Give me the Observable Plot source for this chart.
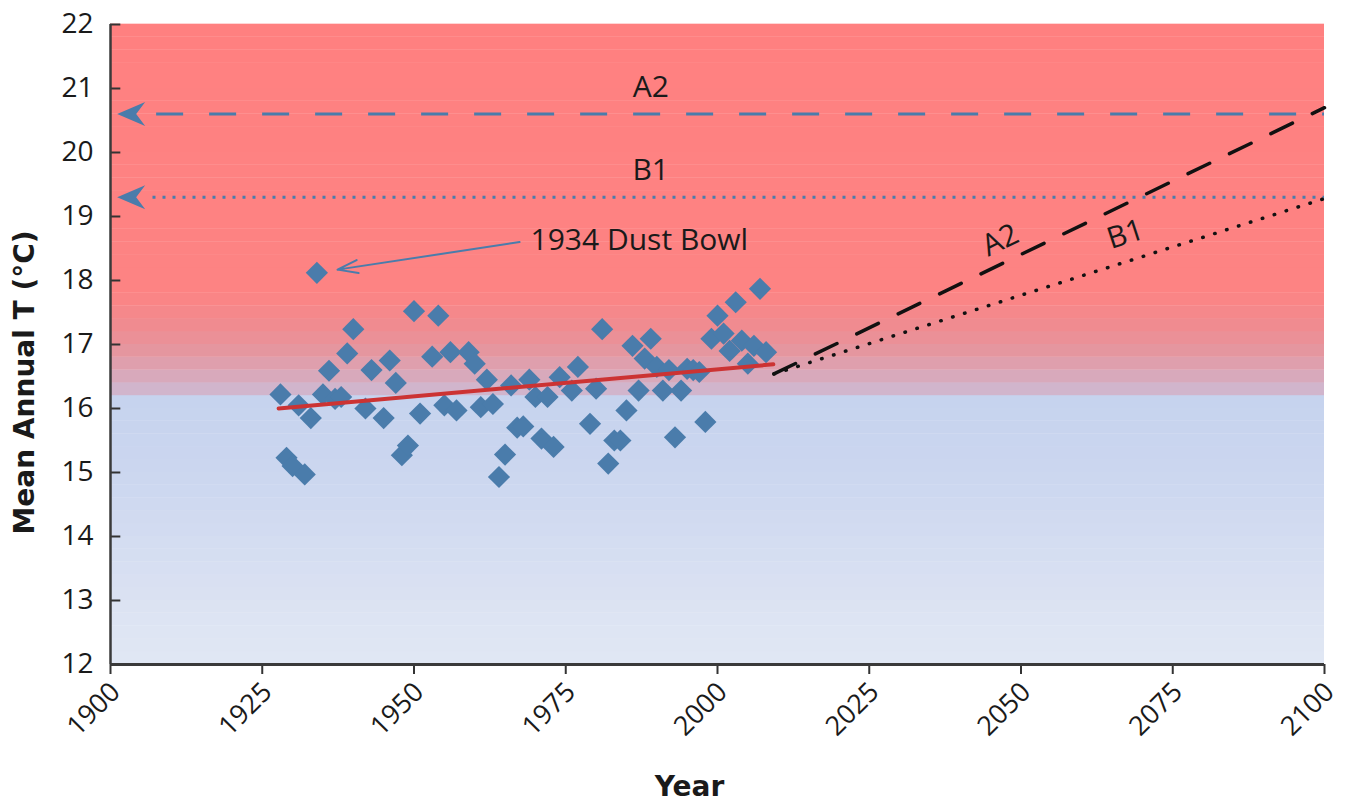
<!DOCTYPE html>
<html><head><meta charset="utf-8">
<script src="https://cdn.jsdelivr.net/npm/d3@7"></script>
<script src="https://cdn.jsdelivr.net/npm/@observablehq/plot@0.6"></script>
<style>body{margin:0;background:#fff;} svg{display:block}</style>
</head><body><div id="chart"></div>
<script>
// Observed annual mean temperature (°C)
const years = [1928,1929,1930,1931,1932,1933,1934,1935,1936,1937,1938,1939,1940,1942,1943,1945,1946,1947,1948,1949,1950,1951,1953,1954,1955,1956,1957,1959,1960,1961,1962,1963,1964,1965,1966,1967,1968,1969,1970,1971,1972,1973,1974,1976,1977,1979,1980,1981,1982,1983,1984,1985,1986,1987,1988,1989,1990,1991,1992,1993,1994,1995,1996,1997,1998,1999,2000,2001,2002,2003,2004,2005,2006,2007,2008];
const temps = [16.22,15.23,15.10,16.05,14.97,15.85,18.12,16.22,16.59,16.15,16.18,16.86,17.24,16.00,16.60,15.85,16.75,16.40,15.27,15.42,17.52,15.92,16.81,17.45,16.05,16.88,15.97,16.88,16.70,16.02,16.45,16.07,14.93,15.28,16.36,15.70,15.72,16.45,16.18,15.53,16.18,15.40,16.49,16.28,16.65,15.76,16.31,17.24,15.14,15.50,15.50,15.97,16.98,16.28,16.78,17.09,16.65,16.28,16.60,15.55,16.28,16.62,16.60,16.57,15.79,17.09,17.45,17.17,16.90,17.66,17.06,16.70,16.98,17.87,16.88];

// Linear trend of observations
const trendYears = [1927.7, 2009.2];
const trendTemps = [16.0, 16.69];

// Scenario projections
const scenarios = ["A2", "B1"];
const projStartYear = 2009.3;
const projStartTemp = 16.54;
const projEndYear = 2100;
const projEndTemps = [20.7, 19.28];
const scenarioLevels = [20.6, 19.3];

// Annotation
const dustBowlYear = 1934;
const dustBowlTemp = 18.12;
const dustBowlLabel = "1934 Dust Bowl";

// Axes
const xTicks = [1900,1925,1950,1975,2000,2025,2050,2075,2100];
const yTicks = [12,13,14,15,16,17,18,19,20,21,22];

// ---------- build ----------
const obs = years.map((y, i) => ({year: y, temp: temps[i]}));
const trend = trendYears.map((y, i) => ({year: y, temp: trendTemps[i]}));
const proj = scenarios.map((s, i) => [
  {s, year: projStartYear, temp: projStartTemp},
  {s, year: projEndYear, temp: projEndTemps[i]}
]);
const levels = scenarios.map((s, i) => ({s, temp: scenarioLevels[i]}));

// background banded gradient (style)
const stopT = [12, 13, 14, 15, 16.2, 16.21, 16.5, 16.9, 17.3, 17.8, 22];
const stopC = ["#e1e7f4","#dbe2f2","#d3dcf1","#cbd6ef","#c6d3ee","#cebad3","#d8a9bb","#e5969f","#f08b90","#fd8383","#ff8080"];
const colorAt = d3.scaleLinear().domain(stopT).range(stopC).interpolate(d3.interpolateRgb);
const bands = d3.range(12, 22, 0.2).map(lo => ({lo, hi: lo + 0.2, c: colorAt(lo + 0.1)}));

const BLUE = "#4a7cab";
const arrowSym = {draw(ctx) {
  ctx.moveTo(0, 0); ctx.lineTo(28, -12); ctx.lineTo(19, 0); ctx.lineTo(28, 12); ctx.closePath();
}};

const chart = Plot.plot({
  width: 1348, height: 802,
  marginLeft: 110, marginRight: 24, marginTop: 24, marginBottom: 138,
  style: {fontFamily: "Open Sans", background: "#fff"},
  x: {domain: [1900, 2100]},
  y: {domain: [12, 22]},
  marks: [
    Plot.rect(bands, {x1: 1900, x2: 2100, y1: "lo", y2: d => d.hi + 0.005, fill: "c"}),
    // scenario levels (blue horizontals)
    Plot.ruleY([levels[0]], {y: "temp", x1: 1907.6, x2: 2100, stroke: BLUE, strokeWidth: 3, strokeDasharray: "27,26"}),
    Plot.ruleY([levels[1]], {y: "temp", x1: 1907.0, x2: 2100, stroke: BLUE, strokeWidth: 3, strokeDasharray: "3,7"}),
    Plot.dot(levels, {x: 1901.1, y: "temp", symbol: arrowSym, fill: BLUE, stroke: "none"}),
    Plot.text(levels, {x: 1989, y: d => d.temp + 0.42, text: "s", fontSize: 30, fill: "#1a1a1a"}),
    // projections
    Plot.line(proj[0], {x: "year", y: "temp", stroke: "#111", strokeWidth: 3.5, strokeDasharray: "24,22"}),
    Plot.line(proj[1], {x: "year", y: "temp", stroke: "#111", strokeWidth: 3.5, strokeDasharray: "0.5,12", strokeLinecap: "round"}),
    Plot.text([scenarios[0]], {x: 2046.6, y: 18.63, text: d => d, rotate: -26, fontSize: 30, fill: "#1a1a1a"}),
    Plot.text([scenarios[1]], {x: 2067.2, y: 18.72, text: d => d, rotate: -18, fontSize: 30, fill: "#1a1a1a"}),
    // observations
    Plot.dot(obs, {x: "year", y: "temp", symbol: "diamond2", r: 10, fill: BLUE, stroke: "none"}),
    Plot.line(trend, {x: "year", y: "temp", stroke: "#cc3333", strokeWidth: 4}),
    // dust bowl annotation
    Plot.arrow([{x1: 1967.4, y1: 18.6, x2: dustBowlYear + 3.4, y2: dustBowlTemp + 0.05}],
      {x1: "x1", y1: "y1", x2: "x2", y2: "y2", stroke: BLUE, strokeWidth: 2, headLength: 16, headAngle: 36}),
    Plot.text([dustBowlLabel], {x: 1969.2, y: 18.63, text: d => d, textAnchor: "start", fontSize: 30, fill: "#1a1a1a"}),
    // axes
    Plot.ruleY(yTicks, {y: d => d, x1: 1900, x2: 1901.7, stroke: "#333", strokeWidth: 2}),
    Plot.axisY({ticks: yTicks, tickSize: 0, tickPadding: 17, fontSize: 28, label: null, fill: "#1a1a1a"}),
    Plot.axisX({ticks: xTicks, tickSize: 10, tickFormat: () => "", label: null, stroke: "#333", strokeWidth: 2}),
    Plot.axisX({ticks: xTicks, tickSize: 0, tickPadding: 23, tickRotate: -45, tickFormat: d => String(d), fontSize: 27, label: null, dx: 5, fill: "#1a1a1a", stroke: "none"}),
    Plot.ruleX([1900], {stroke: "#3a3a3a", strokeWidth: 2.5}),
    Plot.ruleY([12], {stroke: "#3a3a3a", strokeWidth: 3}),
    Plot.text(["Mean Annual T (°C)"], {frameAnchor: "left", textAnchor: "middle", dx: -85, dy: 38, rotate: -90, text: d => d, fontFamily: "DejaVu Sans", fontWeight: "bold", fontSize: 28, fill: "#1a1a1a"}),
    Plot.text(["Year"], {frameAnchor: "bottom", dx: -28, dy: 131, text: d => d, fontFamily: "DejaVu Sans", fontWeight: "bold", fontSize: 28, fill: "#1a1a1a"})
  ]
});
document.getElementById("chart").appendChild(chart);
</script>
</body></html>
